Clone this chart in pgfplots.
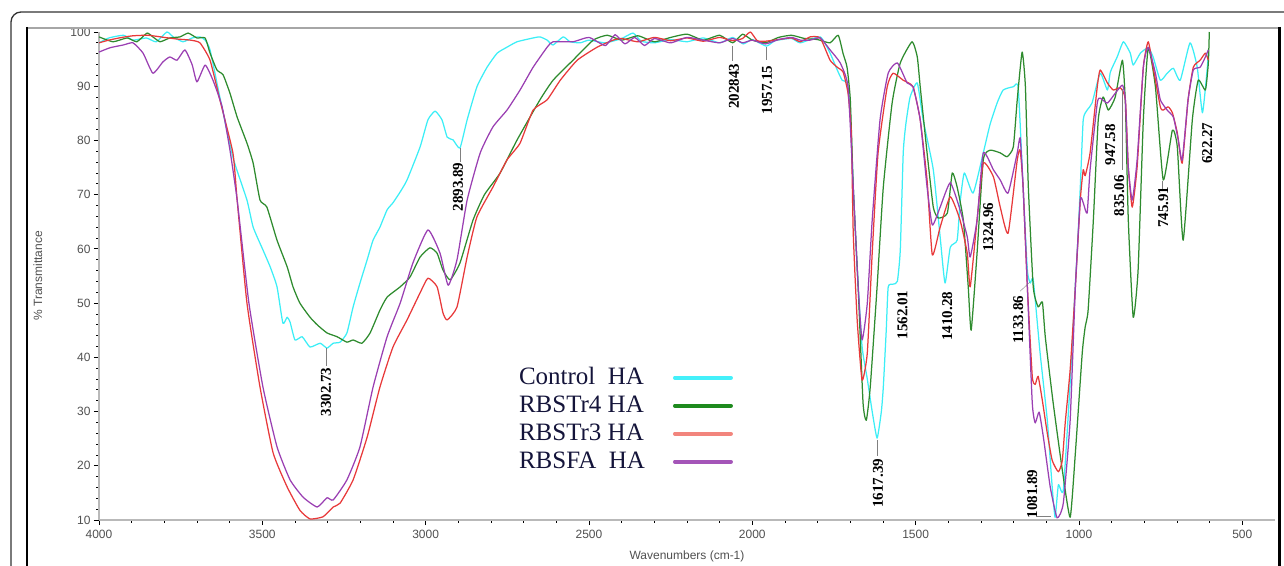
\documentclass[border=0pt]{standalone}
\usepackage{pgfplots}
\pgfplotsset{compat=1.18}
\usepackage{fontspec}
\setmainfont{Liberation Serif}
\newfontfamily\arialf{Liberation Sans}
\newcommand\tickfont{\arialf\fontsize{12}{14}\selectfont}
\newcommand\annfont{\fontsize{15}{18}\selectfont\bfseries}
\newcommand\legfont{\fontsize{25}{28}\selectfont}

\definecolor{cyanC}{HTML}{3CEEF6}
\definecolor{greenC}{HTML}{2E8B2E}
\definecolor{redC}{HTML}{E8393A}
\definecolor{purpleC}{HTML}{9A3FB2}
\definecolor{cyanL}{HTML}{44F0FA}
\definecolor{greenL}{HTML}{1E8A1E}
\definecolor{redL}{HTML}{F2857D}
\definecolor{purpleL}{HTML}{A455B8}
\definecolor{legnavy}{HTML}{14143A}
\definecolor{tickgray}{HTML}{505050}

\begin{document}
\begin{tikzpicture}
\begin{axis}[
  name=ax, at={(0,0)}, anchor=south west,
  scale only axis, width=1176pt, height=488pt,
  x dir=reverse, xmin=400, xmax=4000, ymin=10, ymax=100,
  axis x line*=bottom, axis y line*=left,
  axis line style={gray!55, line width=1.8pt, -},
  xtick={500,1000,...,4000}, ytick={10,20,...,100},
  minor x tick num=4, minor y tick num=4,
  tick align=outside, major tick length=5pt, minor tick length=2.5pt,
  tick style={black, line width=0.8pt},
  /pgf/number format/assume math mode=true,
  /pgf/number format/set thousands separator={},
  ticklabel style={font=\tickfont, text=tickgray},
  xticklabel style={yshift=-2pt},
  xlabel={Wavenumbers (cm-1)}, ylabel={\% Transmittance},
  label style={font=\tickfont, text=tickgray},
  xlabel style={at={(axis description cs:0.5,-0.074)}, anchor=center},
  ylabel style={at={(axis description cs:-0.052,0.5)}, anchor=center},
  legend plot pos=right, legend cell align=left,
  legend image code/.code={\draw[#1, line width=4pt, line cap=round] (0pt,-2pt) -- (56pt,-2pt);},
  legend style={at={(axis description cs:0.357,0.3135)}, anchor=north west,
    draw=none, fill=none, font=\legfont, text=legnavy, inner sep=0pt,
    row sep=11pt, column sep=28pt,
    nodes={inner sep=0pt, text height=17pt, text depth=0pt}},
  every axis plot/.append style={line width=1.25pt, line join=round, smooth, tension=0.3},
]
\addlegendimage{cyanL}\addlegendentry{Control\ \ HA}
\addlegendimage{greenL}\addlegendentry{RBSTr4 HA}
\addlegendimage{redL}\addlegendentry{RBSTr3 HA}
\addlegendimage{purpleL}\addlegendentry{RBSFA\ \ HA}

% Control HA
\addplot[cyanC, forget plot] coordinates {
(4000,98.0) (3970,98.9) (3925,99.4) (3896,98.5) (3855,98.9) (3825,98.2) (3792,100.0) (3773,99.1)
(3743,98.2) (3715,98.9) (3691,99.1) (3675,98.5) (3660,96.7) (3630,88.0) (3590,76.9) (3547,69.0)
(3528,64.0) (3498,59.8) (3476,56.7) (3455,53.0) (3437,46.3) (3424,47.4) (3415,46.5) (3400,43.2)
(3378,43.8) (3354,41.9) (3323,42.6) (3302,41.7) (3283,42.6) (3262,42.8) (3241,44.5) (3222,49.3)
(3201,53.7) (3179,58.0) (3161,61.6) (3140,64.0) (3118,67.2) (3100,68.5) (3078,70.5) (3057,72.7)
(3017,78.8) (2993,83.8) (2971,85.4) (2950,83.8) (2934,80.6) (2916,80.1) (2895,78.6) (2873,83.8)
(2843,89.9) (2812,93.5) (2781,96.1) (2751,97.2) (2720,98.2) (2671,98.9) (2650,99.1) (2628,98.5)
(2610,97.6) (2579,99.1) (2558,98.2) (2527,98.0) (2500,98.5) (2450,98.0) (2400,98.8) (2365,99.8)
(2340,98.3) (2300,98.0) (2250,98.6) (2200,98.2) (2150,98.9) (2100,98.0) (2060,99.0) (2028,97.8)
(2000,98.6) (1957,97.4) (1930,98.4) (1880,98.8) (1853,98.0) (1792,99.1) (1762,96.1) (1740,93.0)
(1725,91.1) (1710,90.6) (1700,85.6) (1691,71.4) (1679,56.7) (1664,42.0) (1648,36.0) (1633,30.0)
(1618,25.1) (1605,30.0) (1599,34.5) (1590,45.0) (1584,53.0) (1569,53.5) (1556,54.0) (1547,59.8)
(1538,77.7) (1530,83.0) (1517,88.0) (1495,90.6) (1477,83.8) (1446,74.6) (1425,62.2) (1410,53.7)
(1394,60.3) (1373,61.6) (1364,68.5) (1351,74.0) (1324,70.3) (1293,77.7) (1272,83.0) (1250,87.0)
(1232,89.3) (1201,89.9) (1186,89.7) (1171,71.4) (1158,56.1) (1149,53.7) (1140,54.3) (1119,40.8)
(1097,28.4) (1082,16.1) (1073,10.5) (1063,16.5) (1048,15.5) (1027,35.3) (1011,53.7) (1005,59.8)
(996,71.4) (987,83.8) (975,85.6) (960,86.9) (935,92.4) (913,89.3) (904,92.6) (883,95.4)
(864,98.2) (843,96.1) (834,93.9) (812,96.1) (788,97.1) (773,95.4) (751,91.1) (730,92.4)
(711,93.3) (690,91.1) (660,98.0) (638,93.5) (622,85.1) (607,93.5) (604,96.7)
};
% RBSTr4 HA
\addplot[greenC, forget plot] coordinates {
(4000,99.1) (3957,98.2) (3914,98.9) (3884,98.2) (3853,99.8) (3835,99.1) (3813,98.2) (3783,98.9)
(3752,99.1) (3727,99.8) (3700,98.9) (3675,98.9) (3660,96.1) (3639,93.0) (3620,92.1) (3599,88.7)
(3577,84.3) (3547,79.5) (3528,75.8) (3507,69.0) (3486,67.7) (3455,61.6) (3424,56.7) (3406,53.0)
(3385,50.0) (3354,47.4) (3332,46.0) (3302,44.5) (3271,43.8) (3241,42.8) (3222,43.2) (3195,42.6)
(3170,44.5) (3140,48.7) (3118,51.1) (3078,53.0) (3048,54.8) (3017,58.5) (2987,60.2) (2965,59.2)
(2947,56.1) (2925,54.3) (2895,57.4) (2855,65.3) (2820,70.0) (2772,74.0) (2720,80.1) (2650,87.5)
(2610,91.1) (2549,94.8) (2487,98.5) (2444,99.4) (2400,98.5) (2350,99.3) (2300,98.2) (2250,99.0)
(2200,99.6) (2150,98.5) (2100,99.4) (2060,98.0) (2030,99.6) (2000,98.5) (1960,98.0) (1920,99.0)
(1880,99.4) (1840,98.8) (1800,98.6) (1762,98.0) (1737,99.4) (1722,96.0) (1710,93.5) (1700,87.5)
(1691,71.4) (1676,53.0) (1661,31.6) (1651,28.4) (1639,34.5) (1618,53.0) (1599,71.4) (1572,86.9)
(1547,94.3) (1511,98.2) (1495,95.4) (1486,89.9) (1465,77.7) (1446,67.7) (1431,65.7) (1403,66.6)
(1388,74.0) (1373,71.4) (1354,65.3) (1339,53.0) (1330,45.0) (1312,59.2) (1293,76.4) (1272,78.2)
(1241,77.7) (1220,77.0) (1201,78.8) (1189,87.5) (1174,96.3) (1164,89.9) (1155,71.4) (1140,53.0)
(1125,49.3) (1112,50.2) (1103,43.7) (1079,31.6) (1051,19.2) (1027,10.5) (1011,22.4) (990,40.8)
(981,45.6) (972,48.7) (956,65.3) (941,83.8) (926,88.0) (910,85.6) (889,88.0) (867,94.8)
(858,86.9) (849,65.3) (834,47.4) (819,56.1) (803,83.8) (788,97.0) (766,89.9) (742,72.7)
(714,81.9) (699,78.8) (681,61.6) (653,83.8) (635,91.1) (613,89.3) (604,94.3) (601,100.0)
};
% RBSTr3 HA
\addplot[redC, forget plot] coordinates {
(4000,98.0) (3970,98.5) (3930,99.0) (3896,99.3) (3850,99.4) (3800,99.0) (3761,98.7) (3720,98.5)
(3691,98.0) (3660,94.8) (3630,87.5) (3590,77.7) (3577,69.0) (3547,50.0) (3507,34.5) (3467,22.4)
(3424,16.1) (3385,11.8) (3354,10.2) (3314,10.6) (3283,12.4) (3262,13.1) (3222,17.4) (3179,25.3)
(3140,34.5) (3100,41.9) (3057,46.9) (3017,51.9) (2993,54.6) (2965,53.0) (2947,48.2) (2934,46.9)
(2904,49.3) (2873,58.5) (2843,65.9) (2794,71.4) (2751,76.4) (2711,79.5) (2671,85.6) (2628,87.5)
(2588,91.1) (2536,94.8) (2475,97.2) (2426,98.5) (2400,98.8) (2350,98.2) (2300,99.0) (2250,98.4)
(2200,98.9) (2150,98.3) (2100,99.0) (2060,98.4) (2030,98.8) (2006,100.0) (1985,98.4) (1960,98.3)
(1920,98.6) (1880,98.9) (1853,98.2) (1823,99.1) (1792,98.9) (1762,94.8) (1740,93.5) (1722,92.6)
(1707,88.7) (1697,81.4) (1691,62.9) (1679,46.9) (1664,35.8) (1648,40.8) (1633,59.2) (1615,77.7)
(1587,89.9) (1569,92.4) (1538,91.1) (1508,89.9) (1486,83.8) (1465,72.7) (1449,58.9) (1425,64.0)
(1394,69.6) (1364,65.3) (1342,59.2) (1333,53.0) (1312,65.3) (1293,75.8) (1262,73.3) (1241,67.7)
(1217,62.9) (1189,76.4) (1180,78.2) (1171,71.4) (1158,53.0) (1143,36.5) (1134,35.0) (1125,36.5)
(1112,32.0) (1097,26.0) (1082,21.0) (1063,18.9) (1051,21.0) (1042,28.0) (1027,37.7) (1011,53.0)
(996,69.0) (987,74.6) (981,73.5) (966,77.7) (944,89.9) (935,93.0) (913,90.6) (895,89.3)
(873,89.7) (858,87.5) (849,75.1) (837,67.7) (822,75.1) (803,93.5) (788,98.2) (773,93.5)
(751,86.2) (742,85.6) (727,86.2) (714,85.1) (699,81.4) (684,75.8) (666,87.5) (650,93.5)
(629,94.8) (613,96.1) (604,94.8)
};
% RBSFA HA
\addplot[purpleC, forget plot] coordinates {
(4000,96.3) (3966,97.1) (3926,97.6) (3896,98.0) (3865,96.1) (3835,92.4) (3804,94.5) (3783,95.4)
(3761,94.8) (3737,96.7) (3715,94.0) (3700,90.8) (3675,93.9) (3651,91.1) (3623,86.2) (3599,78.2)
(3577,69.0) (3541,50.0) (3498,34.5) (3455,23.5) (3415,17.4) (3375,14.2) (3332,12.4) (3302,14.1)
(3283,13.7) (3241,17.4) (3201,23.5) (3161,34.5) (3118,43.8) (3078,50.0) (3039,57.4) (2993,63.5)
(2956,59.2) (2931,53.3) (2904,58.0) (2873,69.0) (2833,77.7) (2794,82.5) (2751,85.6) (2711,89.3)
(2671,93.5) (2628,97.2) (2610,98.2) (2549,98.2) (2500,99.0) (2450,97.5) (2420,99.5) (2390,97.8)
(2360,99.0) (2330,97.5) (2300,98.8) (2250,98.0) (2200,99.0) (2150,98.5) (2100,98.0) (2060,98.8)
(2030,98.0) (2000,98.5) (1960,97.8) (1920,98.6) (1880,99.0) (1853,98.5) (1823,98.5) (1792,98.9)
(1762,96.7) (1731,94.3) (1707,89.9) (1691,71.4) (1676,53.0) (1664,43.2) (1648,50.0) (1633,65.3)
(1609,83.8) (1584,92.4) (1556,94.3) (1526,90.6) (1508,89.9) (1486,83.8) (1465,71.4) (1449,64.4)
(1425,67.7) (1394,72.2) (1364,67.2) (1342,62.2) (1333,58.5) (1312,65.3) (1293,77.7) (1262,74.6)
(1241,72.7) (1217,70.3) (1189,77.7) (1180,80.5) (1171,71.4) (1158,53.0) (1143,31.6) (1134,27.9)
(1122,29.9) (1109,25.3) (1088,16.1) (1067,10.4) (1048,13.1) (1027,28.4) (1011,53.0) (996,69.0)
(987,68.5) (975,66.6) (966,74.6) (944,86.9) (935,87.8) (913,86.9) (889,88.7) (867,90.2)
(858,87.5) (849,75.1) (837,69.0) (822,76.4) (803,93.5) (788,97.2) (766,92.4) (751,87.5)
(730,85.6) (711,84.3) (696,80.1) (684,76.4) (666,87.5) (650,93.0) (629,93.5) (613,95.4)
(604,96.7)
};

% peak labels
\begin{scope}[every node/.style={rotate=90, font=\annfont, inner sep=0pt}]
\node at (axis cs:3305,33.6) {3302.73};
\node at (axis cs:2901,71.4) {2893.89};
\node at (axis cs:2056,90.0) {202843};
\node at (axis cs:1955,89.3) {1957.15};
\node at (axis cs:1615,16.8) {1617.39};
\node at (axis cs:1540,47.8) {1562.01};
\node at (axis cs:1403,47.6) {1410.28};
\node at (axis cs:1278,64.0) {1324.96};
\node at (axis cs:1186,46.9) {1133.86};
\node at (axis cs:1143,14.8) {1081.89};
\node at (axis cs:904,79.2) {947.58};
\node at (axis cs:877,69.8) {835.06};
\node at (axis cs:742,67.7) {745.91};
\node at (axis cs:607,79.5) {622.27};
\end{scope}
\draw[gray, line width=0.6pt] (axis cs:3302.73,41.7) -- (axis cs:3302.73,38.4);
\draw[gray, line width=0.6pt] (axis cs:2893.89,78.6) -- (axis cs:2893.89,76.0);
\draw[gray, line width=0.6pt] (axis cs:2062,97.4) -- (axis cs:2062,94.6);
\draw[gray, line width=0.6pt] (axis cs:1958,97.2) -- (axis cs:1958,94.8);
\draw[gray, line width=0.6pt] (axis cs:1617.39,24.8) -- (axis cs:1617.39,21.8);
\draw[gray, line width=0.4pt] (axis cs:1180,52.2) -- (axis cs:1150,53.9);
\draw[gray, line width=0.6pt] (axis cs:1130,10.6) -- (axis cs:1085,10.6);
\draw[gray, line width=0.6pt] (axis cs:868,89.5) -- (axis cs:868,74.5);
\draw[gray, line width=0.6pt] (axis cs:745.91,72.5) -- (axis cs:745.91,71.0);
\end{axis}
% window and outer frame
\draw[black!80, line width=1.3pt, rounded corners=10pt] (-88pt,-80pt) -- (-88pt,508pt) -- (1250pt,508pt);
\draw[gray!70, line width=2.5pt] (-72pt,492pt) -- (1180pt,492pt);
\draw[black, line width=1.2pt] (-72pt,493pt) -- (-72pt,-80pt);
\draw[black, line width=3pt] (1180pt,493pt) -- (1180pt,-80pt);
\pgfresetboundingbox
\useasboundingbox (-99pt,-45pt) rectangle (1185pt,520pt);
\end{tikzpicture}
\end{document}
